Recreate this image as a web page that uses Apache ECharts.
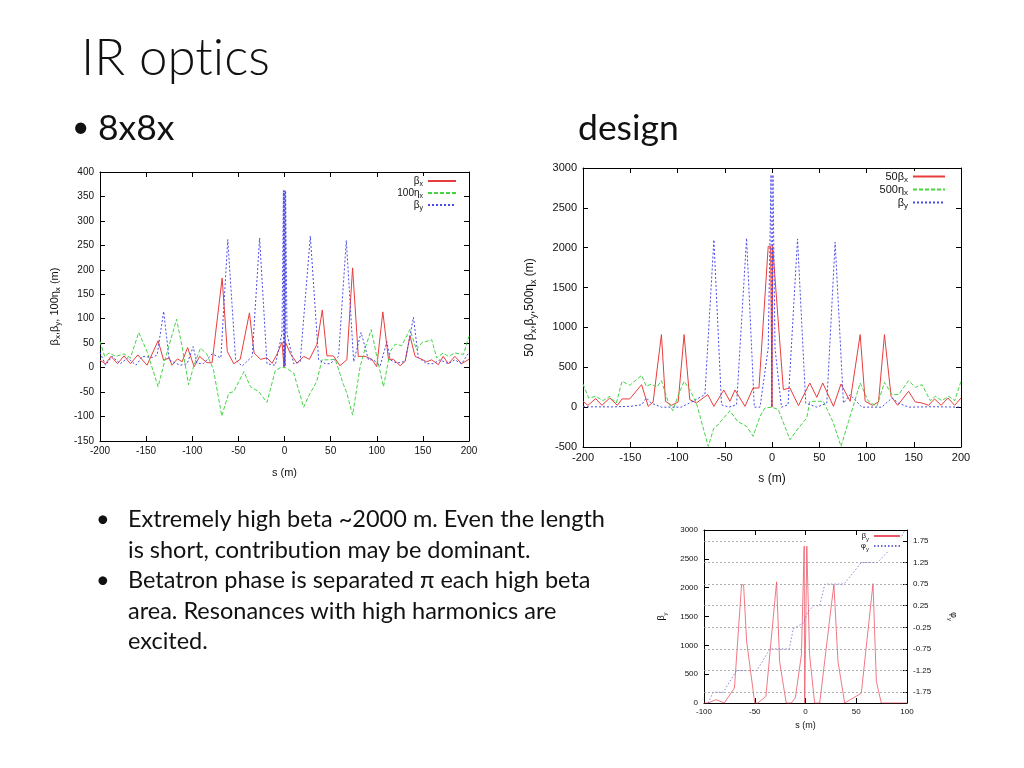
<!DOCTYPE html>
<html>
<head>
<meta charset="utf-8">
<script src="https://cdn.jsdelivr.net/npm/echarts@6/dist/echarts.min.js"></script>
<style>
html,body{margin:0;padding:0;background:#fff;}
#wrap{position:relative;width:1024px;height:768px;overflow:hidden;}
#c{position:absolute;left:0;top:0;width:1024px;height:768px;}
.t{position:absolute;white-space:nowrap;font-family:Lato,'Open Sans',sans-serif;color:#111;
   font-variant-ligatures:none;font-feature-settings:"liga" 0,"clig" 0;margin:0;padding:0;}
.title{font-weight:300;font-size:51px;line-height:60px;}
.head{font-size:35.5px;line-height:40px;}
.body{font-size:23.5px;line-height:30.5px;}
</style>
</head>
<body>
<div id="wrap">
<div id="c"></div>
<div class="t title" style="left:81px;top:26px;">IR optics</div>
<div class="t head" style="left:72px;top:105px;font-size:30px;">•</div>
<div class="t head" style="left:98px;top:107px;">8x8x</div>
<div class="t head" style="left:578px;top:107px;">design</div>
<div class="t body" style="left:96px;top:503px;">•</div>
<div class="t body" style="left:128px;top:503px;">Extremely high beta ~2000 m. Even the length<br>is short, contribution may be dominant.</div>
<div class="t body" style="left:96px;top:564px;">•</div>
<div class="t body" style="left:128px;top:564px;">Betatron phase is separated π each high beta<br>area. Resonances with high harmonics are<br>excited.</div>
</div>
<script>
// ---------- DATA (s in m, value) ----------
// Left chart "8x8x"
const betaX8 = [[-200,15],[-194,8],[-188,23],[-181,8],[-174,24],[-167,8],[-159,26],[-149,5],[-137,55],[-131,15],[-125,20],[-122,5],[-116,18],[-111,12],[-105,41],[-98,2],[-92,23],[-84,10],[-78.5,10],[-67.6,183],[-62,33],[-55,8],[-48,17],[-38,112],[-33,30],[-26,17],[-19,20],[-13.5,9],[-8,28],[-2.7,52],[-1,52],[-0.5,1],[0.5,1],[1,52],[2.7,52],[6.3,29],[13.5,9],[20.7,23],[27,17],[35,47],[41,118],[46,24],[53,24],[60,4],[67.6,16],[73.8,204],[80,23],[87.5,23],[94.7,17],[100,2],[106.6,114],[112.7,17],[118,17],[125.4,4],[130.8,13],[136,65],[141.6,23],[148.8,17],[154,12],[159.6,16],[166.8,6],[172,23],[177.6,8],[184.7,23],[191.9,8],[200,17]];
const eta100x8 = [[-200,54],[-195,23],[-190,30],[-183,23],[-174,28],[-167,20],[-158,72],[-149,33],[-137,-39],[-129,20],[-117,99],[-111,43],[-104,-35],[-98,6],[-91,40],[-84,27],[-77,-4],[-68,-99],[-60.4,-52],[-55,-49],[-44,-8],[-37,-39],[-28,-49],[-19,-71],[-10,-6],[-4.5,0],[1,0],[10,-11],[20.7,-81],[26,-59],[35,-28],[40.6,16],[49.6,16],[55,17],[64,-35],[67.6,-52],[73.8,-97],[82,2],[87.5,40],[94,78],[100,23],[107.3,-39],[114.5,33],[120,48],[127,45],[136,78],[143,37],[149,51],[159.6,57],[165,20],[172,30],[177.6,23],[184.7,30],[194,27],[200,64]];
const betaY8 = [[-200,31],[-194,5],[-187,23],[-178,8],[-170,20],[-161,5],[-154,23],[-143,21],[-138,26],[-131,115],[-125,16],[-118,9],[-113,5],[-105.5,8],[-99,43],[-95,9],[-88,8],[-78.5,28],[-69,20],[-61.5,262],[-53,16],[-46,3],[-35,23],[-27,265],[-19,8],[-10,5],[-2.7,70],[-1.2,362],[-0.8,3],[-0.4,362],[0,3],[0.4,362],[0.8,3],[1.2,362],[2.7,70],[10,8],[17,12],[28,269],[37,16],[44,8],[49.6,8],[58.6,23],[67,260],[75,12],[83,72],[91,16],[96.5,16],[103.7,4],[111,53],[114.5,16],[121.7,9],[130.8,13],[139.8,103],[145,21],[154,8],[161,8],[168.6,16],[177.6,8],[184.7,16],[192,8],[200,31]];

// Right chart "design"
const beta50xD = [[-200,73],[-194.7,23],[-186.6,107],[-180,23],[-171.7,115],[-163.6,23],[-158.7,103],[-150.5,103],[-138,282],[-131,10],[-125.8,65],[-117,910],[-112.7,73],[-106.4,23],[-99.3,65],[-93,910],[-87,94],[-80,52],[-68,157],[-61.5,10],[-51,215],[-44.5,73],[-39.2,215],[-28.6,10],[-20,240],[-13.8,240],[-4,2017],[-1.4,2017],[0,0],[0.7,2017],[2.5,2017],[12,219],[19,240],[28,19],[40,303],[47.4,123],[53.7,303],[65,10],[73,290],[82.7,73],[93.3,910],[98.6,73],[106.4,23],[112.7,65],[119,910],[126,136],[133,23],[144.5,199],[151.6,65],[158.7,52],[165.7,23],[172,103],[179,23],[186,115],[193.3,23],[200,115]];
const eta500xD = [[-200,290],[-194,115],[-186.6,136],[-178.8,82],[-171.7,136],[-164.7,52],[-158.7,324],[-150.5,274],[-138,399],[-133,261],[-127.6,290],[-122,249],[-117,332],[-110,73],[-105,-45],[-99,157],[-93,324],[-87,219],[-80,52],[-67.5,-492],[-61.5,-262],[-58.7,-241],[-44.5,-45],[-36.4,-179],[-26.9,-241],[-20,-366],[-12.7,-115],[-7.4,-10],[0,0],[6.7,-31],[19,-408],[28,-262],[36.8,-136],[40,73],[54.4,73],[65,-199],[73,-492],[81,-179],[93.3,303],[102,73],[111,10],[119,311],[127,157],[134,157],[144.5,332],[151.6,249],[158.7,282],[167.5,82],[172.8,136],[179.8,82],[187,136],[193.3,82],[200,324]];
const betaYD = [[-200,5],[-170,3],[-150,10],[-138,30],[-133,115],[-127.6,50],[-117,0],[-96,0],[-85,65],[-71,157],[-61.5,2100],[-53.4,30],[-45.6,0],[-37.5,30],[-26.9,2120],[-18.7,0],[-12.7,0],[-4,740],[-1,2916],[-0.3,0],[0.3,0],[1,2916],[3.2,740],[10,0],[17,30],[27,2110],[35.7,50],[47.4,0],[58,50],[66.8,2070],[75.6,50],[82.7,157],[95,0],[116,0],[127,115],[134,50],[144.5,0],[170,5],[200,0]];

// Small chart: beta_y and phase phi_y
const betaYS = [[-100,0],[-96,0],[-88,58],[-80,0],[-70,260],[-63,2050],[-61,2050],[-58,1070],[-50,0],[-47,0],[-39,115],[-28.5,2100],[-25.5,720],[-19,0],[-14,0],[-10,90],[-4,840],[-1.3,2720],[-0.8,0],[0.8,0],[1.3,2720],[4,840],[9,0],[14,0],[25.5,1700],[28,2050],[32,720],[38.6,0],[55,170],[66.5,2070],[69.8,375],[74.7,0],[100,0]];
const phiYS = [[-96,-2],[-91,-1.75],[-81,-1.75],[-68,-1.25],[-48,-1.25],[-35,-0.75],[-16,-0.75],[-12,-0.28],[-2,-0.15],[2,0.1],[8,0.25],[14,0.25],[19,0.75],[38,0.75],[55,1.25],[71,1.25],[86,1.62],[90,1.63],[98,2.0]];
const phiTicks = [-1.75,-1.25,-0.75,-0.25,0.25,0.75,1.25,1.75];

// ---------- CHART ----------
const chart = echarts.init(document.getElementById('c'), null, {renderer:'canvas'});
const AX = 'Liberation Sans';
const RED = '#e83c3c', GREEN = '#44d444', BLUE = '#4a4ae8';
const plain = (v) => String(v);

const richSub = (fs) => ({
  b:{fontSize:fs, fontFamily:AX, color:'#111', lineHeight:fs+4},
  s:{fontSize:Math.round(fs*0.72), fontFamily:AX, color:'#111', verticalAlign:'bottom', lineHeight:fs-1}
});

function xAx(grid, min, max, itv, fs, top, name, gap){
  return {
    type:'value', gridIndex:grid, min:min, max:max, interval:itv,
    position: top ? 'top' : 'bottom',
    name: top ? '' : name, nameLocation:'middle', nameGap:gap,
    nameTextStyle:{fontSize:fs+1, fontFamily:AX, color:'#111'},
    axisLine:{show:true, onZero:false, lineStyle:{color:'#000', width:1}},
    axisTick:{show:true, inside:true, length:5, lineStyle:{color:'#000'}},
    axisLabel:{show:!top, fontSize:fs, fontFamily:AX, color:'#111', margin:5, formatter:plain},
    splitLine:{show:false}
  };
}
function yAx(grid, min, max, itv, fs, right, name, gap){
  return {
    type:'value', gridIndex:grid, min:min, max:max, interval:itv,
    position: right ? 'right' : 'left',
    name: name || '', nameLocation:'middle', nameGap:gap, nameRotate:90,
    nameTextStyle:{fontSize:fs+1, fontFamily:AX, color:'#111', rich:richSub(fs+1)},
    axisLine:{show:true, onZero:false, lineStyle:{color:'#000', width:1}},
    axisTick:{show:true, inside:true, length:5, lineStyle:{color:'#000'}},
    axisLabel:{show:!right, fontSize:fs, fontFamily:AX, color:'#111', margin:6, formatter:plain},
    splitLine:{show:false}
  };
}

const legendMap = {
  L_bx:'{b|β}{s|x}', L_eta:'{b|100η}{s|x}', L_by:'{b|β}{s|y}',
  R_bx:'{b|50β}{s|x}', R_eta:'{b|500η}{s|x}', R_by:'{b|β}{s|y}',
  S_by:'{b|β}{s|y}', S_phi:'{b|φ}{s|y}'
};
function legend(names, right, top, fs, w){
  return {
    data:names, orient:'vertical', align:'right', right:right, top:top,
    itemWidth:w, itemHeight:4, itemGap:0, padding:0,
    itemStyle:{opacity:0},
    lineStyle:{opacity:1},
    backgroundColor:'#fff',
    formatter:(n)=>legendMap[n],
    textStyle:{fontSize:fs, fontFamily:AX, color:'#111', rich:richSub(fs)}
  };
}
function line(name, data, xi, yi, color, type, width){
  return {
    name:name, type:'line', data:data, xAxisIndex:xi, yAxisIndex:yi,
    showSymbol:false, symbol:'none', silent:true,
    lineStyle:{color:color, width:width||1, type:type},
    itemStyle:{color:color}
  };
}

const option = {
  animation:false,
  backgroundColor:'transparent',
  grid:[
    {left:100, right:1024-469, top:172, bottom:768-441},
    {left:583, right:1024-961, top:168, bottom:768-447},
    {left:704, right:1024-907, top:530, bottom:768-703}
  ],
  xAxis:[
    xAx(0,-200,200,50,10,false,'s (m)',26),
    xAx(0,-200,200,50,10,true),
    xAx(1,-200,200,50,11,false,'s (m)',26),
    xAx(1,-200,200,50,11,true),
    xAx(2,-100,100,50,8,false,'s (m)',18),
    xAx(2,-100,100,50,8,true)
  ],
  yAxis:[
    yAx(0,-150,400,50,10,false,'{b|β}{s|x}{b|,β}{s|y}{b|, 100η}{s|x}{b| (m)}',38),
    yAx(0,-150,400,50,10,true),
    yAx(1,-500,3000,500,11,false,'{b|50 β}{s|x}{b|,β}{s|y}{b|,500η}{s|x}{b| (m)}',45),
    yAx(1,-500,3000,500,11,true),
    yAx(2,0,3000,500,8,false,'{b|β}{s|y}',36),
    Object.assign(yAx(2,-2,2,0.5,8,false,'{b|φ}{s|y}',40), {
      position:'right', nameRotate:-90,
      axisTick:{show:true, inside:true, length:4, customValues:phiTicks, lineStyle:{color:'#000'}},
      axisLabel:{show:true, fontSize:8, fontFamily:AX, color:'#111', margin:6, customValues:phiTicks, formatter:plain}
    })
  ],
  legend:[
    legend(['L_bx','L_eta','L_by'], 1024-457, 176, 10, 28),
    legend(['R_bx','R_eta','R_by'], 1024-946, 171, 11, 32),
    legend(['S_by','S_phi'], 1024-901, 532, 8, 26)
  ],
  series:[
    line('L_bx', betaX8, 0, 0, RED, 'solid'),
    line('L_eta', eta100x8, 0, 0, GREEN, [4,2]),
    line('L_by', betaY8, 0, 0, BLUE, [2,2]),
    line('R_bx', beta50xD, 2, 2, RED, 'solid'),
    line('R_eta', eta500xD, 2, 2, GREEN, [4,2]),
    line('R_by', betaYD, 2, 2, BLUE, [2,2]),
    Object.assign(line('S_by', betaYS, 4, 4, '#ee5566', 'solid', 0.8), {z:3}),
    Object.assign(line('S_phi', phiYS, 4, 5, '#6a6ad0', [1.5,2], 0.8), {
      markLine:{
        silent:true, symbol:'none', label:{show:false},
        lineStyle:{color:'#9a9a9a', type:[2,2], width:0.8},
        data: phiTicks.filter(v=>v!==1.75).map(v=>({yAxis:v})).concat([[{coord:[-100,1.75]},{coord:[0,1.75]}]])
      }
    })
  ]
};
chart.setOption(option);
</script>
</body>
</html>
